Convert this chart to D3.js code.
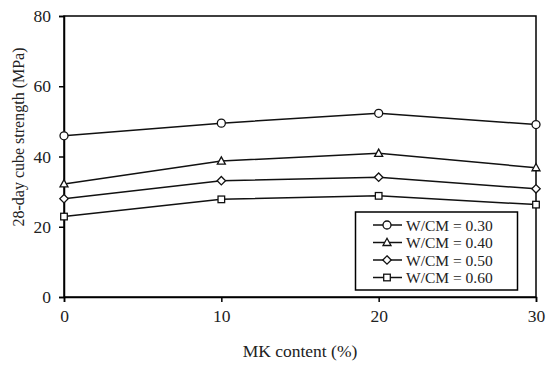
<!DOCTYPE html>
<html><head><meta charset="utf-8">
<script src="https://cdn.jsdelivr.net/npm/d3@7"></script>
<style>body{margin:0;background:#fff;} svg{display:block;} text{font-family:"Liberation Serif","Times New Roman",serif;fill:#222;}</style>
</head><body>
<svg id="c" width="550" height="365"></svg>
<script>
const mkContent = [0, 10, 20, 30];
const seriesNames = ["W/CM = 0.30", "W/CM = 0.40", "W/CM = 0.50", "W/CM = 0.60"];
const wcm030 = [45.9, 49.5, 52.3, 49.1];
const wcm040 = [32.2, 38.7, 40.9, 36.8];
const wcm050 = [28.0, 33.1, 34.1, 30.8];
const wcm060 = [22.9, 27.8, 28.8, 26.3];
const xTicks = [0, 10, 20, 30];
const yTicks = [0, 20, 40, 60, 80];
const markerTypes = ["circle", "triangle", "diamond", "square"];

const series = [wcm030, wcm040, wcm050, wcm060];
const svg = d3.select("#c");
const L = 64, R = 536, T = 16, B = 297;
const x = d3.scaleLinear().domain([0, 30]).range([L, R]);
const y = d3.scaleLinear().domain([0, 80]).range([B, T]);

svg.append("rect").attr("x", L).attr("y", T).attr("width", R - L).attr("height", B - T)
  .attr("fill", "none").attr("stroke", "#000").attr("stroke-width", 1.5);

const yAx = svg.append("g").attr("transform", `translate(${L},0)`)
  .call(d3.axisLeft(y).tickValues(yTicks).tickSize(5).tickPadding(8).tickFormat(d3.format("d")));
const xAx = svg.append("g").attr("transform", `translate(0,${B})`)
  .call(d3.axisBottom(x).tickValues(xTicks).tickSize(5).tickPadding(8).tickFormat(d3.format("d")));
[yAx, xAx].forEach(g => {
  g.select(".domain").attr("stroke", "#000").attr("stroke-width", 1.5);
  g.selectAll(".tick line").attr("stroke", "#000").attr("stroke-width", 1.5);
  g.selectAll("text").style("font-family", '"Liberation Serif", serif').style("font-size", "17.5px").attr("fill", "#333");
});

svg.append("text").attr("transform", "translate(24,137) rotate(-90)")
  .attr("text-anchor", "middle").style("font-size", "16px").attr("fill", "#333")
  .text("28-day cube strength (MPa)");
svg.append("text").attr("x", 300).attr("y", 357).attr("text-anchor", "middle")
  .style("font-size", "17.5px").attr("fill", "#333").text("MK content (%)");

function marker(g, type, cx, cy) {
  if (type === "circle") g.append("circle").attr("cx", cx).attr("cy", cy).attr("r", 4);
  else if (type === "square") g.append("rect").attr("x", cx - 3.3).attr("y", cy - 3.3).attr("width", 6.6).attr("height", 6.6);
  else if (type === "triangle") g.append("path").attr("d", `M${cx},${cy - 4.2}L${cx + 4},${cy + 3}L${cx - 4},${cy + 3}Z`);
  else g.append("path").attr("d", `M${cx},${cy - 4.2}L${cx + 4.2},${cy}L${cx},${cy + 4.2}L${cx - 4.2},${cy}Z`);
}

const line = d3.line().x((d, i) => x(mkContent[i])).y(d => y(d));
series.forEach((s, k) => {
  svg.append("path").attr("d", line(s)).attr("fill", "none").attr("stroke", "#111").attr("stroke-width", 1.5);
  const g = svg.append("g").attr("fill", "#fff").attr("stroke", "#111").attr("stroke-width", 1.3);
  s.forEach((v, i) => marker(g, markerTypes[k], x(mkContent[i]), y(v)));
});

const lg = svg.append("g");
lg.append("rect").attr("x", 355.5).attr("y", 212).attr("width", 162).attr("height", 78)
  .attr("fill", "#fff").attr("stroke", "#000").attr("stroke-width", 1.5);
seriesNames.forEach((n, k) => {
  const yy = 225 + k * 17.5;
  lg.append("line").attr("x1", 373).attr("x2", 402).attr("y1", yy).attr("y2", yy).attr("stroke", "#111").attr("stroke-width", 1.5);
  const g = lg.append("g").attr("fill", "#fff").attr("stroke", "#111").attr("stroke-width", 1.3);
  marker(g, markerTypes[k], 387, yy);
  lg.append("text").attr("x", 406).attr("y", yy + 5.5).style("font-size", "15.5px").attr("fill", "#333").text(n);
});
</script>
</body></html>
